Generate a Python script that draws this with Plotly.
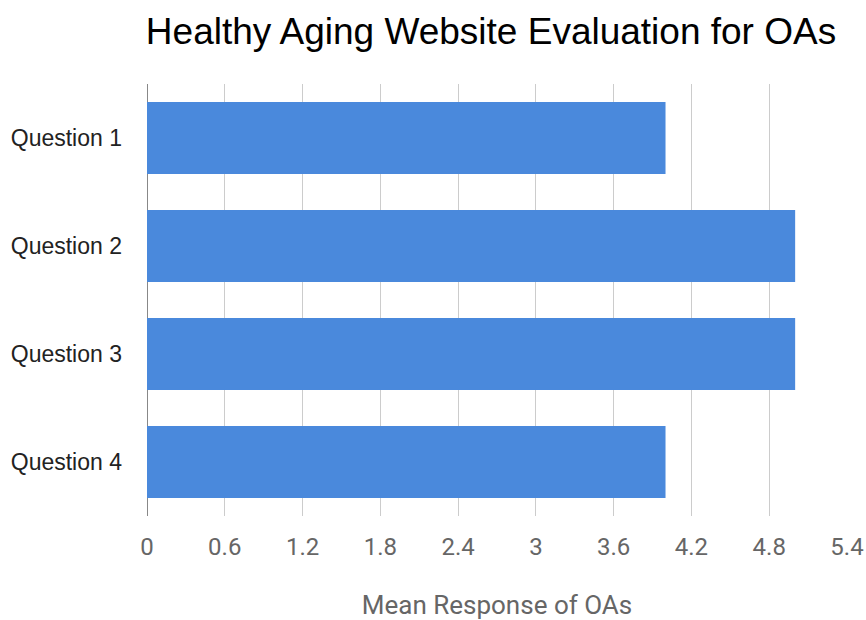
import plotly.graph_objects as go

categories = ["Question 1", "Question 2", "Question 3", "Question 4"]
values = [4.0, 5.0, 5.0, 4.0]
tick_vals = [0, 0.6, 1.2, 1.8, 2.4, 3, 3.6, 4.2, 4.8, 5.4]
tick_text = ["0", "0.6", "1.2", "1.8", "2.4", "3", "3.6", "4.2", "4.8", "5.4"]

fig = go.Figure(go.Bar(
    x=values, y=categories, orientation="h",
    marker=dict(color="#4a89dc", line=dict(width=0)),
))

fig.update_layout(
    width=866, height=620,
    margin=dict(l=147, r=19, t=84, b=104),
    paper_bgcolor="white", plot_bgcolor="white",
    bargap=0.333,
    showlegend=False,
    title=dict(text="Healthy Aging Website Evaluation for OAs",
               x=0.567, xanchor="center", y=0.95, yanchor="middle",
               font=dict(family="Liberation Sans, Arial", size=37, color="#000000")),
    font=dict(family="Liberation Sans, Arial"),
)
fig.update_xaxes(
    range=[0, 5.4], tickvals=tick_vals, ticktext=tick_text,
    showgrid=True, gridcolor="#cccccc", gridwidth=1,
    zeroline=True, zerolinecolor="#888888", zerolinewidth=1,
    showline=False, ticks="", automargin=False, ticklabelstandoff=14,
    tickfont=dict(family="Roboto", size=24, color="#666666"),
    title=dict(text="Mean Response of OAs",
               font=dict(family="Roboto", size=26, color="#666666"), standoff=36),
)
fig.update_yaxes(
    autorange="reversed", showgrid=False, ticks="", showline=False,
    automargin=False, ticklabelstandoff=24,
    tickfont=dict(size=23, color="#222222"),
)

fig.write_html("out.html")
